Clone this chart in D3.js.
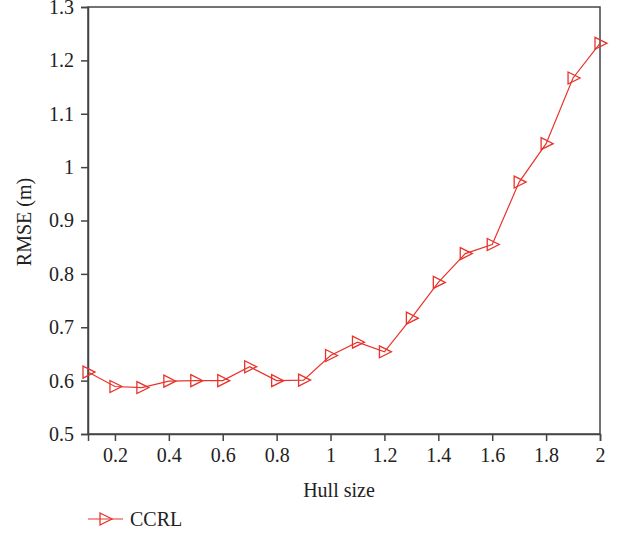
<!DOCTYPE html>
<html><head><meta charset="utf-8">
<script src="https://cdn.jsdelivr.net/npm/d3@7"></script>
<style>body{margin:0;background:#fff}svg{display:block}</style>
</head><body>
<svg id="c" width="623" height="535"></svg>
<script>
const hullSize = [0.1,0.2,0.3,0.4,0.5,0.6,0.7,0.8,0.9,1.0,1.1,1.2,1.3,1.4,1.5,1.6,1.7,1.8,1.9,2.0];
const rmseCCRL = [0.616,0.589,0.587,0.599,0.600,0.600,0.626,0.600,0.601,0.647,0.672,0.654,0.717,0.784,0.838,0.855,0.972,1.044,1.167,1.232];
const xTicks = [0.2,0.4,0.6,0.8,1,1.2,1.4,1.6,1.8,2];
const yTicks = [0.5,0.6,0.7,0.8,0.9,1,1.1,1.2,1.3];
const seriesName = "CCRL";

const svg = d3.select("#c");
const L = 88, R = 600, T = 7, B = 434;
const red = "#e8332b", axisCol = "#444";
const font = "'Liberation Serif','Times New Roman',serif";

const x = d3.scaleLinear().domain([0.1, 2]).range([L, R]);
const y = d3.scaleLinear().domain([0.5, 1.3]).range([B, T]);

// frame
svg.append("rect").attr("x", L).attr("y", T).attr("width", R - L).attr("height", B - T)
  .attr("fill", "none").attr("stroke", axisCol).attr("stroke-width", 1.5);

const fmt = d => String(+d.toFixed(1));
const xa = svg.append("g").attr("transform", `translate(0,${B})`)
  .call(d3.axisBottom(x).tickValues(xTicks).tickFormat(fmt).tickSize(7).tickPadding(7));
const ya = svg.append("g").attr("transform", `translate(${L},0)`)
  .call(d3.axisLeft(y).tickValues(yTicks).tickFormat(fmt).tickSize(7).tickPadding(7));
[xa, ya].forEach(g => {
  g.select(".domain").attr("stroke", axisCol).attr("stroke-width", 1.5);
  g.selectAll(".tick line").attr("stroke", axisCol).attr("stroke-width", 1.5);
  g.selectAll(".tick text").attr("fill", "#222").style("font-family", font).style("font-size", "20px");
});

// line
svg.append("path").datum(hullSize.map((h, i) => [h, rmseCCRL[i]]))
  .attr("fill", "none").attr("stroke", red).attr("stroke-width", 1.2)
  .attr("d", d3.line().x(d => x(d[0])).y(d => y(d[1])));

const tri = "M-5,-6 L7,0 L-5,6 Z";
svg.append("g").selectAll("path").data(hullSize.map((h, i) => [h, rmseCCRL[i]])).join("path")
  .attr("transform", d => `translate(${x(d[0])},${y(d[1])})`)
  .attr("d", tri).attr("fill", "none").attr("stroke", red).attr("stroke-width", 1.3);

// axis titles
svg.append("text").attr("x", (L + R) / 2 - 5).attr("y", 497).attr("text-anchor", "middle")
  .style("font-family", font).style("font-size", "20px").attr("fill", "#222").text("Hull size");
svg.append("text").attr("transform", `translate(31,222) rotate(-90)`).attr("text-anchor", "middle")
  .style("font-family", font).style("font-size", "20px").attr("fill", "#222").text("RMSE (m)");

// legend
const lg = svg.append("g").attr("transform", "translate(88,519)");
lg.append("line").attr("x1", 0).attr("x2", 35).attr("stroke", red).attr("stroke-width", 1.2);
lg.append("path").attr("transform", "translate(17,0)").attr("d", tri).attr("fill", "none").attr("stroke", red).attr("stroke-width", 1.3);
lg.append("text").attr("x", 42).attr("y", 7).style("font-family", font).style("font-size", "20px").attr("fill", "#222").text(seriesName);
</script>
</body></html>
